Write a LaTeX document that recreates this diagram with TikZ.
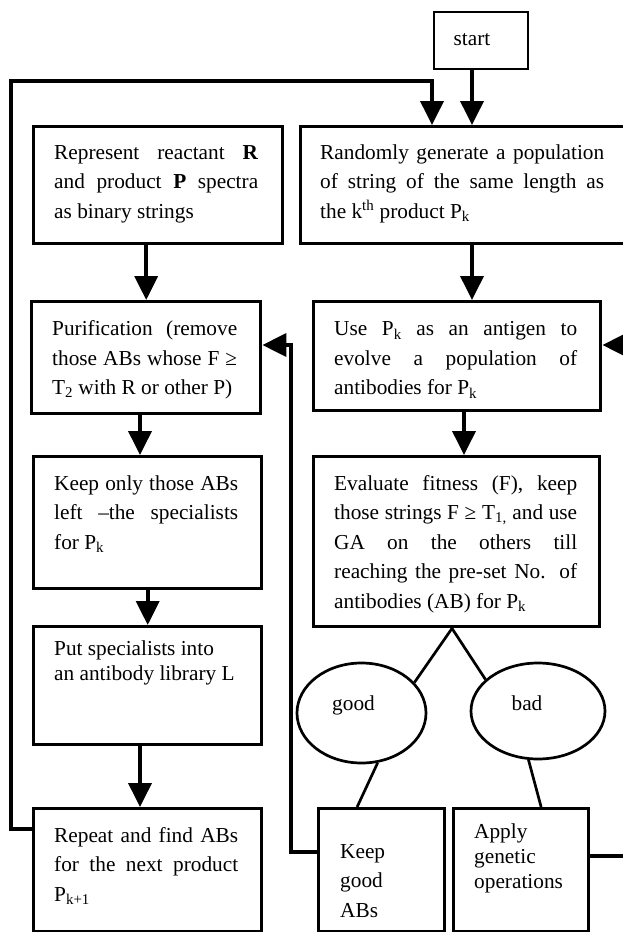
\documentclass[tikz,border=0pt]{standalone}
\usepackage{amsmath}
\usepackage{xcolor}
\usepackage{fontspec}
\setmainfont{Liberation Serif}
\usetikzlibrary{arrows.meta,shapes.geometric,calc}

\begin{document}
\begin{tikzpicture}[x=1pt,y=1pt,yscale=-1,xscale=1,
  box/.style={draw, line width=3.4pt, inner sep=0pt, anchor=north west},
  oval/.style={draw, ellipse, line width=2.7pt, inner sep=0pt},
  txt/.style={anchor=north west, inner sep=0pt, align=justify, font=\fontsize{21.3}{29.5}\selectfont, execute at begin node=\strut},
  lbl/.style={anchor=base, inner sep=0pt, font=\fontsize{21.3}{29.5}\selectfont},
  arr/.style={line width=3.8pt, -{Triangle[width=23pt,length=24pt]}},
  lnk/.style={line width=2.7pt}]
\useasboundingbox (0,0) rectangle (623,932);

%Shape: Rectangle
\node[box, line width=2pt, minimum width=94pt, minimum height=57pt] (start) at (433,11) {};
%Shape: Rectangle
\node[box, minimum width=249pt, minimum height=117pt] (repr) at (32,125) {};
%Shape: Rectangle
\node[box, minimum width=340pt, minimum height=117pt] (rand) at (299,125) {};
%Shape: Rectangle
\node[box, minimum width=229pt, minimum height=112pt] (purif) at (30,300) {};
%Shape: Rectangle
\node[box, minimum width=287pt, minimum height=109pt] (antigen) at (312,300) {};
%Shape: Rectangle
\node[box, minimum width=228pt, minimum height=132pt] (keeponly) at (32,455) {};
%Shape: Rectangle
\node[box, minimum width=286pt, minimum height=170pt] (evalfit) at (312,455) {};
%Shape: Rectangle
\node[box, minimum width=228pt, minimum height=118pt] (putlib) at (32,625) {};
%Shape: Rectangle
\node[box, minimum width=228pt, minimum height=123pt] (repeat) at (32,807) {};
%Shape: Rectangle
\node[box, minimum width=126pt, minimum height=123pt] (keepgood) at (317,807) {};
%Shape: Rectangle
\node[box, minimum width=135pt, minimum height=123pt] (apply) at (452,807) {};
%Shape: Ellipse
\node[oval, minimum width=129pt, minimum height=100pt] (good) at (361.5,713) {};
%Shape: Ellipse
\node[oval, minimum width=134pt, minimum height=96pt] (bad) at (538,711) {};

% Text Node
\node[lbl] (t-start) at (472,45) {start};
% Text Node
\node[txt, text width=204pt] (t-repr) at (54,138.4) {Represent reactant \textbf{R}\linebreak and product \textbf{P} spectra\linebreak as binary strings};
% Text Node
\node[txt, text width=284pt] (t-rand) at (320,138.4) {Randomly generate a population\linebreak of string of the same length as\linebreak the k\textsuperscript{th} product P\textsubscript{k}};
% Text Node
\node[txt, text width=185pt] (t-purif) at (52,315) {Purification (remove\linebreak those ABs whose F ≥\linebreak T\textsubscript{2} with R or other P)};
% Text Node
\node[txt, text width=243pt] (t-antigen) at (334,315) {Use P\textsubscript{k} as an antigen to\linebreak evolve a population of\linebreak antibodies for P\textsubscript{k}};
% Text Node
\node[txt, text width=184pt] (t-keeponly) at (54,469.4) {Keep only those ABs\linebreak left –the specialists\linebreak for P\textsubscript{k}};
% Text Node
\node[txt, text width=243pt] (t-evalfit) at (334,469.4) {Evaluate fitness (F), keep\linebreak those strings F ≥ T\textsubscript{1,} and use\linebreak GA on the others till\linebreak reaching the pre-set No. of\linebreak antibodies (AB) for P\textsubscript{k}};
% Text Node
\node[txt, text width=184pt, font=\fontsize{21.3}{25}\selectfont] (t-putlib) at (54,637.5) {Put specialists into\\ an antibody library L};
% Text Node
\node[txt, text width=184pt] (t-repeat) at (54,821.4) {Repeat and find ABs\linebreak for the next product\linebreak P\textsubscript{k+1}};
% Text Node
\node[txt, text width=100pt, align=left] (t-keepgood) at (340,837.4) {Keep\\ good\\ ABs};
% Text Node
\node[txt, text width=110pt, align=left, font=\fontsize{21.3}{25}\selectfont] (t-apply) at (474,820.5) {Apply\\ genetic\\ operations};
% Text Node
\node[lbl] (t-good) at (353.5,710) {good};
% Text Node
\node[lbl] (t-bad) at (527,710) {bad};

%Straight Lines
\coordinate (colR) at (472,0);
\coordinate (colM) at (464,0);
\coordinate (colL) at (140,0);
\draw[arr] (colR |- start.south) -- (colR |- rand.north);
\draw[arr] (colR |- rand.south) -- (colR |- antigen.north);
\draw[arr] (colM |- antigen.south) -- (colM |- evalfit.north);
\draw[arr] (repr.south -| purif.north) -- (purif.north);
\draw[arr] (colL |- purif.south) -- (colL |- keeponly.north);
\draw[arr] (keeponly.south) -- (keeponly.south |- putlib.north);
\draw[arr] (colL |- putlib.south) -- (colL |- repeat.north);

%Straight Lines
\draw[lnk] (evalfit.south -| apply.west) -- (good.30);
\draw[lnk] (evalfit.south -| apply.west) -- (bad.149);
\draw[lnk] (good.-72) -- ($(keepgood.north west)!0.31!(keepgood.north east)$);
\draw[lnk] (bad.-101) -- ($(apply.north west)!0.644!(apply.north east)$);

%Straight Lines
\coordinate (fbl) at (11,829);
\coordinate (fbt) at (11,81);
\coordinate (fbr) at (432,81);
\draw[arr] (repeat.west |- fbl) -- (fbl) -- (fbt) -- (fbr) -- (fbr |- rand.north);
\coordinate (fgb) at (291,852);
\coordinate (fgt) at (291,345);
\draw[arr] (keepgood.west |- fgb) -- (fgb) -- (fgt) -- (fgt -| purif.east);
\coordinate (fab) at (640,856);
\coordinate (fat) at (640,345);
\draw[arr] (apply.east |- fab) -- (fab) -- (fat) -- (fat -| antigen.east);
\end{tikzpicture}
\end{document}
